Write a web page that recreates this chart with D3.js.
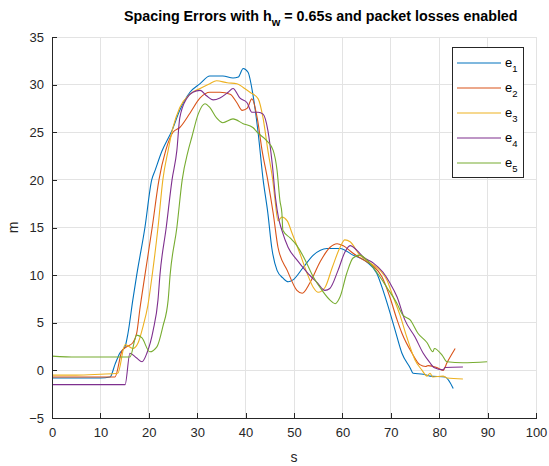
<!DOCTYPE html>
<html><head><meta charset="utf-8">
<script src="https://cdn.jsdelivr.net/npm/d3@7/dist/d3.min.js"></script>
<style>body{margin:0;background:#fff;} text{font-family:"Liberation Sans",Arial,sans-serif;}</style>
</head><body><svg id="c" width="549" height="466"></svg>
<script>
const xTicks = [0,10,20,30,40,50,60,70,80,90,100];
const yTicks = [-5,0,5,10,15,20,25,30,35];
const seriesNames = ["1","2","3","4","5"];
const colors = ["#0072BD","#D95319","#EDB120","#7E2F8E","#77AC30"];

const t1 = [0,5,10,12,13,14,15.1,15.7,16.7,17.5,19.2,20.6,21.3,22.7,24.8,26.4,28.5,30.6,32.6,35.3,37.4,38.5,39.5,40.5,41.5,42.6,43.6,44.6,45.4,46.5,47.7,48.8,49.8,51.9,54,56.8,59.5,62.2,65,67.1,68.4,69.4,70.9,72.3,74,74.6,76.7,78.1,81.2,82.9];
const e1 = [-0.8,-0.8,-0.8,-0.7,0.6,1.8,2.5,3.9,7.4,10,15,20,21,23,25.2,27.3,29.2,30.1,30.9,30.9,30.7,30.8,31.7,31.3,29.0,24.9,20.1,16.5,12.9,10.5,9.7,9.3,9.5,10.8,12.1,12.8,12.8,12.1,11.4,10.2,8.4,6.8,4.2,1.8,0.26,-0.3,-0.4,-0.6,-0.7,-1.9];

const t2 = [0,5,10,13,14.5,15.5,16.7,17.5,18.2,19.2,20.7,22.1,23.5,25,26.4,28.5,30.6,32.6,34.7,36.8,38.2,39.3,40.3,41.3,42.4,43.4,44.6,45.7,46.7,48.6,50.6,51.7,53.3,55.4,57.4,58.9,60.1,62.2,64.3,66.3,68.2,69.8,71.3,72.3,74.4,76,77.2,77.7,79.5,80.8,81.6,83.3];
const e2 = [-0.7,-0.7,-0.7,-0.7,2.1,2.5,2.9,3.9,6.6,10,15,20,23.1,25,25.5,27,28.6,29.2,29.2,29,28.1,27.3,27.5,28.5,26.5,23.1,19.9,16.5,12.9,10.5,8.4,8.1,9.2,11.4,12.9,13.3,13.1,12.3,11.6,11,9.8,7.7,5.3,3.9,1.8,0.6,0.4,0.5,0.3,0.0,0.8,2.3];

const t3 = [0,5,10,13.6,15.1,16.7,17.8,18.8,19.8,20.7,21.9,22.9,24,25,26.4,28.5,30.6,32.6,34,36.2,38.2,39.5,40.9,42.6,43.6,44.6,45.7,46.1,46.7,47.5,48.6,49.6,51.2,52.7,54,55,56.4,57.9,59.5,60.5,61.6,63.6,65.7,67.8,69.2,70.5,71.9,73.3,75,76.4,77.5,78.1,78.7,80.8,81.6,84.9];
const e3 = [-0.5,-0.5,-0.4,-0.3,2.7,2.3,2.9,4.6,6.8,10,15,20,23.1,25.5,27.6,29,29.6,30.1,30.4,30.2,30.1,29.7,29.2,28.5,26.5,23.1,19.6,17.8,15.7,16.1,15.7,14.4,12.3,10.2,8.7,8.2,8.7,10.8,12.9,13.7,13.5,12.1,11.3,10.5,9.5,7.7,5.8,3.5,1.1,0.05,-0.6,-0.3,-0.7,-0.6,-0.8,-0.9];

const t4 = [0,5,10,15.1,16.1,17.5,18.6,19.6,20.9,21.9,22.3,23.6,24.8,25.8,26.4,27.9,29.1,30.6,32,33.3,34.7,36.4,37.4,38.8,40.3,41.3,42.6,43.6,44.6,45.5,46.2,46.8,47.5,48.8,50.6,52.7,54.8,56.4,57.4,59.1,60.5,61.6,63,64.3,66.3,68.4,69.8,71.3,72.9,75,76.7,78.1,78.9,80.8,81.2,84.9];
const e4 = [-1.5,-1.5,-1.5,-1.5,1.8,1.3,0.9,1.8,4.2,7.4,10,15,20,23.1,26.5,28.6,29.2,29.4,28.8,28.4,28.6,29.2,29.6,28.6,28.1,27.1,27.1,26.9,25.2,21.7,18,16,14.7,12.9,11.6,10.3,9.2,8.4,8.6,10.5,12.4,13.1,12.6,11.9,11.3,10.3,9.2,7.7,5.3,3.5,1.8,0.8,0.3,0.05,0.3,0.35];

const t5 = [0,5,10,16.1,17.5,18.6,20.2,21.7,22.9,24,24.4,25.8,26.9,28.1,28.9,30.2,31.6,32.6,34,35.3,37.4,39.5,41.5,42.6,44.4,45.7,46.5,47.1,47.5,47.7,49.2,50.6,52.3,54,55.8,57.4,58.5,59.5,60.9,62.2,63.6,65,67.1,69.2,71.3,72.5,74,75.6,77.5,78.7,79.0,80.6,81.6,84.9,89.9];
const e5 = [1.5,1.4,1.4,1.4,3.7,3.4,1.95,2.5,4.6,7.4,10,15,20,23,24.5,26.9,28,27.6,26.5,26,26.4,25.9,25.5,24.9,24.1,23.1,21,17.8,16.5,14.7,13.9,13.1,11.6,9.8,8.4,7.4,7,7.7,10.2,11.8,12.1,11.6,10.3,8.7,7,5.8,5.3,3.9,2.9,1.95,2.3,1.6,0.9,0.8,0.9];

const times = [t1,t2,t3,t4,t5];
const values = [e1,e2,e3,e4,e5];

const svg = d3.select("#c");
const L=52, R=536, T=37, B=418;
const x = d3.scaleLinear().domain([0,100]).range([L,R]);
const y = d3.scaleLinear().domain([-5,35]).range([B,T]);
const axisColor = "#262626";

// grid
const g = svg.append("g");
g.selectAll(".gx").data(xTicks).enter().append("line")
  .attr("x1",d=>x(d)).attr("x2",d=>x(d)).attr("y1",T).attr("y2",B)
  .attr("stroke","#e3e3e3").attr("stroke-width",1).attr("shape-rendering","crispEdges");
g.selectAll(".gy").data(yTicks).enter().append("line")
  .attr("x1",L).attr("x2",R).attr("y1",d=>y(d)).attr("y2",d=>y(d))
  .attr("stroke","#e3e3e3").attr("stroke-width",1).attr("shape-rendering","crispEdges");

// lines
const line = d3.line().curve(d3.curveMonotoneX);
times.forEach((tt,i)=>{
  const pts = tt.map((t,j)=>[x(t), y(values[i][j])]);
  svg.append("path").attr("d",line(pts)).attr("fill","none")
    .attr("stroke",colors[i]).attr("stroke-width",1.1).attr("stroke-linejoin","round");
});

// axes
const xAxis = d3.axisBottom(x).tickValues(xTicks).tickSizeInner(-5).tickSizeOuter(0).tickPadding(10);
const yAxis = d3.axisLeft(y).tickValues(yTicks).tickSizeInner(-5).tickSizeOuter(0).tickPadding(8);
const gx = svg.append("g").attr("transform",`translate(0,${B})`).call(xAxis);
const gy = svg.append("g").attr("transform",`translate(${L},0)`).call(yAxis);
[gx,gy].forEach(a=>{
  a.select(".domain").attr("stroke",axisColor).attr("shape-rendering","crispEdges");
  a.selectAll(".tick line").attr("stroke",axisColor).attr("shape-rendering","crispEdges");
  a.selectAll(".tick text").attr("fill",axisColor).attr("font-size",13).attr("font-family","Liberation Sans, Arial, sans-serif");
});

// labels
svg.append("text").attr("x",(L+R)/2).attr("y",462).attr("text-anchor","middle")
  .attr("font-size",14).attr("fill",axisColor).text("s");
svg.append("text").attr("transform",`translate(18,${(T+B)/2}) rotate(-90)`).attr("text-anchor","middle")
  .attr("font-size",14).attr("fill",axisColor).text("m");

// title
const title = svg.append("text").attr("x",124).attr("y",21).attr("font-size",14.3)
  .attr("font-weight","bold").attr("fill","#000");
title.append("tspan").text("Spacing Errors with h");
title.append("tspan").attr("dy",5).attr("font-size",11).text("w");
title.append("tspan").attr("dy",-5).text(" = 0.65s and packet losses enabled");

// legend
const lg = svg.append("g");
lg.append("rect").attr("x",452.5).attr("y",47.5).attr("width",71).attr("height",130)
  .attr("fill","#fff").attr("stroke",axisColor).attr("stroke-width",1);
seriesNames.forEach((n,i)=>{
  const yy = 63 + i*25;
  lg.append("line").attr("x1",457).attr("x2",501).attr("y1",yy).attr("y2",yy)
    .attr("stroke",colors[i]).attr("stroke-width",1.1);
  const tx = lg.append("text").attr("x",505).attr("y",yy+4).attr("font-size",13).attr("fill","#000");
  tx.append("tspan").text("e");
  tx.append("tspan").attr("dy",5).attr("font-size",9.5).text(n);
});
</script></body></html>
